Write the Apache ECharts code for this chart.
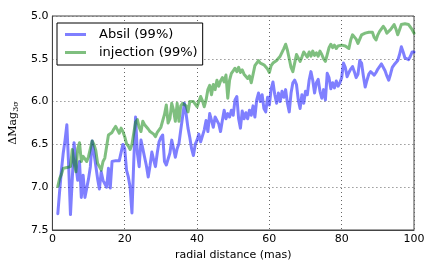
<!DOCTYPE html>
<html><head><meta charset="utf-8">
<script src="https://cdn.jsdelivr.net/npm/echarts@6/dist/echarts.min.js"></script>
<style>html,body{margin:0;padding:0;background:#fff}#c{width:436px;height:272px}</style>
</head><body><div id="c"></div>
<script>
const dist = [1.5,2,2.5,3,3.5,4,4.5,5,5.5,6,6.5,7,7.5,8,8.5,9,9.5,10,10.5,11,11.5,12,12.5,13,13.5,14,14.5,15,15.5,16,16.5,17,17.5,18,18.5,19,19.5,20,
20.5,21,21.5,22,22.5,23,23.5,24,24.5,25,25.5,26,26.5,27,27.5,28,28.5,29,29.5,30,30.5,31,31.5,32,32.5,33,33.5,34,34.5,35,35.5,36,36.5,37,37.5,38,38.5,39,39.5,40,
40.5,41,41.5,42,42.5,43,43.5,44,44.5,45,45.5,46,46.5,47,47.5,48,48.5,49,49.5,50,50.5,51,51.5,52,52.5,53,53.5,54,54.5,55,55.5,56,56.5,57,57.5,58,58.5,59,59.5,60,
60.5,61,61.5,62,62.5,63,63.5,64,64.5,65,65.5,66,66.5,67,67.5,68,68.5,69,69.5,70,70.5,71,71.5,72,72.5,73,73.5,74,74.5,75,75.5,76,76.5,77,77.5,78,78.5,79,79.5,80,
80.5,81,81.5,82,82.5,83,83.5,84,84.5,85,85.5,86,86.5,87,87.5,88,88.5,89,89.5,90,90.5,91,91.5,92,92.5,93,93.5,94,94.5,95,95.5,96,96.5,97,97.5,98,98.5,99,99.5,100];

const absil = [7.31,7.05,6.8,6.6,6.45,6.27,6.75,7.32,6.9,6.48,6.75,6.92,6.7,7.12,6.86,7.12,7.12,6.9,6.76,6.46,6.6,6.75,6.9,7.02,6.82,6.92,6.96,7.0,6.78,7.01,6.7,6.68,6.69,6.7,6.69,6.68,6.5,6.55,
6.8,6.88,7.0,7.3,6.7,6.18,6.6,6.76,6.45,6.55,6.65,6.75,6.88,6.75,6.59,6.68,6.76,6.6,6.47,6.42,6.39,6.7,6.74,6.76,6.6,6.45,6.55,6.65,6.55,6.49,6.33,6.18,6.02,6.15,6.31,6.42,6.55,6.63,6.5,6.45,
6.38,6.47,6.4,6.33,6.22,6.35,6.14,6.22,6.3,6.18,6.16,6.26,6.35,6.22,6.1,6.2,6.14,6.18,6.1,6.16,5.98,5.94,6.2,6.31,6.11,6.2,6.13,6.2,6.1,6.16,6.05,6.18,5.98,5.9,6.0,5.92,6.08,6.12,5.95,6.04,
5.85,5.77,5.92,6.02,5.9,6.0,5.88,5.95,5.86,6.02,6.12,5.9,5.78,5.75,5.8,5.98,6.08,5.92,6.02,5.88,5.92,5.75,5.65,5.75,5.9,5.78,5.74,5.88,5.96,5.86,5.98,5.67,5.72,5.85,5.78,5.84,5.76,5.82,5.78,5.72,
5.55,5.6,5.71,5.66,5.62,5.59,5.65,5.72,5.68,5.52,5.55,5.7,5.83,5.75,5.68,5.65,5.67,5.69,5.66,5.62,5.6,5.56,5.58,5.64,5.7,5.75,5.68,5.6,5.57,5.55,5.52,5.45,5.36,5.42,5.49,5.5,5.51,5.47,5.42,5.42];

const injection = [6.99,6.9,6.85,6.78,6.77,6.77,6.76,6.76,6.56,6.72,6.82,6.55,6.48,6.7,6.64,6.67,6.7,6.64,6.55,6.46,6.5,6.57,6.72,6.76,6.8,6.7,6.66,6.64,6.39,6.37,6.36,6.32,6.29,6.33,6.37,6.31,6.35,6.41,
6.49,6.52,6.56,6.5,6.37,6.24,6.21,6.3,6.35,6.23,6.27,6.29,6.32,6.35,6.33,6.38,6.41,6.36,6.33,6.3,6.29,6.15,6.04,6.25,6.2,6.02,6.1,6.23,6.02,6.23,6.05,6.02,6.02,6.05,6.12,6.0,5.98,6.0,6.01,6.06,
6.0,5.94,5.99,6.06,5.98,5.86,5.81,5.92,5.8,5.86,5.75,5.82,5.76,5.72,5.77,5.69,5.96,5.75,5.67,5.64,5.61,5.65,5.6,5.66,5.63,5.68,5.66,5.73,5.7,5.78,5.68,5.58,5.55,5.52,5.55,5.53,5.57,5.55,5.62,5.66,
5.58,5.55,5.57,5.52,5.5,5.47,5.45,5.38,5.33,5.4,5.5,5.6,5.65,5.55,5.45,5.46,5.53,5.48,5.42,5.44,5.48,5.42,5.47,5.41,5.46,5.43,5.47,5.41,5.45,5.5,5.53,5.45,5.37,5.33,5.37,5.34,5.38,5.35,5.37,5.34,
5.34,5.35,5.37,5.38,5.28,5.22,5.2,5.27,5.32,5.27,5.22,5.21,5.2,5.2,5.19,5.18,5.19,5.25,5.28,5.22,5.18,5.15,5.12,5.15,5.2,5.18,5.16,5.13,5.1,5.15,5.22,5.16,5.1,5.09,5.09,5.1,5.1,5.12,5.16,5.2];

const seriesNames = ['Absil (99%)', 'injection (99%)'];
const xTicks = [0, 20, 40, 60, 80, 100];
const yTicks = [5.0, 5.5, 6.0, 6.5, 7.0, 7.5];

const FONT = 'DejaVu Sans';
const blue = 'rgba(0,0,255,0.5)';
const green = 'rgba(0,128,0,0.5)';

const chart = echarts.init(document.getElementById('c'), null, {renderer: 'canvas'});
chart.setOption({
  animation: false,
  backgroundColor: '#fff',
  grid: {left: 50, right: 22, top: 16, bottom: 42, show: true, borderColor: '#444', borderWidth: 1, backgroundColor: 'transparent'},
  legend: {
    orient: 'vertical', left: 57, top: 23,
    padding: [5, 5, 6, 8], itemGap: 5,
    itemWidth: 21, itemHeight: 3,
    backgroundColor: '#fff', borderColor: '#000', borderWidth: 1, borderRadius: 0,
    textStyle: {fontFamily: FONT, fontSize: 13, color: '#000', lineHeight: 13, padding: [0, 0, 0, 8]},
    data: [
      {name: seriesNames[0], icon: 'rect', itemStyle: {color: blue}},
      {name: seriesNames[1], icon: 'rect', itemStyle: {color: green}}
    ]
  },
  xAxis: {
    type: 'value', min: xTicks[0], max: xTicks[xTicks.length - 1], interval: 20,
    name: 'radial distance (mas)', nameLocation: 'middle', nameGap: 20,
    nameTextStyle: {fontFamily: FONT, fontSize: 11, color: '#000'},
    axisLine: {show: true, lineStyle: {color: '#444', width: 1}},
    axisTick: {show: false},
    axisLabel: {fontFamily: FONT, fontSize: 11, color: '#000', margin: 4},
    splitLine: {show: true, lineStyle: {color: '#666', width: 1, type: [1, 3]}}
  },
  yAxis: {
    type: 'value', inverse: true, min: yTicks[0], max: yTicks[yTicks.length - 1], interval: 0.5,
    name: '{a|ΔMag}{s|3σ}', nameLocation: 'middle', nameGap: 26, nameRotate: 90,
    nameTextStyle: {
      fontFamily: 'DejaVu Serif', fontSize: 11, color: '#000',
      rich: {
        a: {fontFamily: 'DejaVu Serif', fontSize: 11, color: '#000'},
        s: {fontFamily: 'DejaVu Serif', fontSize: 8, color: '#000', padding: [5, 0, 0, 0]}
      }
    },
    axisLine: {show: true, lineStyle: {color: '#444', width: 1}},
    axisTick: {show: false},
    axisLabel: {fontFamily: FONT, fontSize: 11, color: '#000', margin: 4, formatter: v => v.toFixed(1)},
    splitLine: {show: true, lineStyle: {color: '#666', width: 1, type: [1, 3]}}
  },
  series: [
    {name: seriesNames[0], type: 'line', symbol: 'none', data: dist.map((x, i) => [x, absil[i]]),
     lineStyle: {color: blue, width: 3, join: 'round', cap: 'round'}, itemStyle: {color: blue}, z: 2},
    {name: seriesNames[1], type: 'line', symbol: 'none', data: dist.map((x, i) => [x, injection[i]]),
     lineStyle: {color: green, width: 3, join: 'round', cap: 'round'}, itemStyle: {color: green}, z: 3}
  ]
});
</script></body></html>
